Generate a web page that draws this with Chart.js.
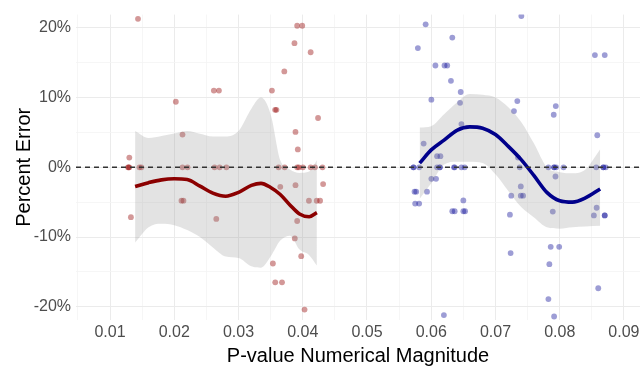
<!DOCTYPE html>
<html>
<head>
<meta charset="utf-8">
<script src="https://cdn.jsdelivr.net/npm/chart.js@4.4.1/dist/chart.umd.min.js"></script>
<style>
  html, body { margin: 0; padding: 0; background: #fff; }
  canvas { display: block; }
</style>
</head>
<body>
<canvas id="chart" width="644" height="366"></canvas>
<script>
// axis range and ticks
const xMin = 0.0047, xMax = 0.0925;
const yMin = -21.9, yMax = 21.9;
const xTicks = [0.005, 0.01, 0.015, 0.02, 0.025, 0.03, 0.035, 0.04, 0.045, 0.05, 0.055, 0.06, 0.065, 0.07, 0.075, 0.08, 0.085, 0.09];
const yTicks = [-20, -15, -10, -5, 0, 5, 10, 15, 20];

// red group points (p-value, percent error)
const redX = [0.0128, 0.0129, 0.0130, 0.01457, 0.01488, 0.02128, 0.02206, 0.02627, 0.02706, 0.02811,
  0.03624, 0.03718, 0.03913, 0.03939, 0.04002, 0.04123, 0.0419, 0.04307,
  0.01435, 0.02616, 0.02695, 0.0352, 0.02024, 0.0357, 0.0359, 0.02128, 0.0130,
  0.03913, 0.03992, 0.03871, 0.04123, 0.03713, 0.04238, 0.03887, 0.03923,
  0.01325, 0.02112, 0.02143, 0.02654, 0.03535, 0.0365, 0.03887, 0.04317, 0.04096, 0.04217, 0.0427,
  0.03913, 0.03876, 0.03976, 0.03572, 0.03677, 0.04028];
const redY = [0, 0, 0, 0, 0, 0, 0, 0, 0, 0,
  0, 0, 0, 0, 0, 0, 0, 0,
  21.3, 11.0, 11.0, 11.0, 9.4, 8.25, 8.25, 4.7, 1.4,
  20.3, 20.3, 17.8, 16.5, 13.75, 7.07, 5.08, 2.56,
  -7.15, -4.78, -4.78, -7.4, -13.8, -2.8, -2.56, -2.4, -4.8, -4.8, -4.8,
  -7.7, -10.2, -12.75, -16.5, -16.5, -20.4];

// blue group points
const blueX = [0.05724, 0.05724, 0.05812, 0.06091, 0.06134, 0.06134, 0.06365, 0.06354, 0.0647, 0.06521, 0.07378,
  0.07824, 0.07913, 0.07913, 0.07945, 0.0806, 0.08569, 0.08679, 0.08679, 0.08717,
  0.05913, 0.05792, 0.06328, 0.06065, 0.06207, 0.06249, 0.06307, 0.06002, 0.05882, 0.06091, 0.06143,
  0.06459, 0.06449, 0.0647, 0.0734, 0.07288, 0.07403, 0.07351, 0.08548, 0.08701, 0.07939, 0.07907, 0.08585,
  0.06002, 0.06075, 0.0574, 0.05766, 0.05934, 0.0575, 0.05812, 0.06328, 0.06365, 0.06197,
  0.065, 0.065, 0.06527, 0.07246, 0.07394, 0.0743, 0.07394, 0.07225, 0.07236,
  0.07934, 0.07892, 0.08575, 0.08532, 0.08701, 0.08701, 0.0786, 0.07992, 0.07839, 0.086, 0.07824, 0.07913];
const blueY = [0, 0, 0, 0, 0, 0, 0, 0, 0, 0, 0,
  0, 0, 0, 0, 0, 0, 0, 0, 0,
  20.5, 17.1, 18.6, 14.6, 14.6, 14.6, 12.4, 9.7, 3.4, 1.6, 1.6,
  10.8, 9.25, 6.2, 9.5, 8.07, 21.7, 1.4, 16.1, 16.1, 8.78, 7.54, 4.6,
  -1.65, -1.65, -3.5, -3.5, -3.5, -5.2, -5.2, -6.3, -6.3, -21.2,
  -4.75, -6.3, -6.3, -4.07, -4.07, -4.07, -2.75, -6.8, -12.3,
  -1.32, -6.35, -5.8, -6.9, -6.9, -6.9, -11.4, -11.4, -13.9, -17.35, -18.9, -21.4];

// smoothed trend + confidence band, red
const redFitX = [0.0139, 0.016, 0.018, 0.020, 0.022, 0.024, 0.026, 0.028, 0.030, 0.032, 0.0335, 0.035, 0.0365, 0.038, 0.0395, 0.041, 0.0422];
const redFit = [-2.75, -2.2, -1.8, -1.65, -1.75, -2.7, -3.7, -4.15, -3.6, -2.6, -2.3, -2.9, -3.9, -5.4, -6.7, -7.1, -6.5];
const redHi = [5.2, 4.2, 4.5, 4.85, 5.2, 4.8, 4.4, 4.4, 5.2, 8.4, 10.0, 7.6, 1.0, -0.3, -0.8, -0.6, 1.0];
const redLo = [-10.8, -8.6, -8.1, -8.3, -9.0, -10.0, -11.5, -12.8, -13.0, -14.2, -14.4, -12.8, -10.5, -9.8, -11.8, -12.6, -14.1];

// smoothed trend + confidence band, blue
const blueFitX = [0.0582, 0.060, 0.062, 0.064, 0.066, 0.068, 0.070, 0.072, 0.074, 0.076, 0.078, 0.080, 0.082, 0.084, 0.0863];
const blueFit = [0.6, 2.5, 3.9, 5.3, 5.8, 5.6, 4.7, 3.0, 1.1, -1.2, -3.6, -4.8, -5.0, -4.4, -3.1];
const blueHi = [5.7, 5.9, 7.6, 9.3, 10.5, 10.4, 10.0, 8.6, 6.5, 3.4, 0.0, -0.7, -0.85, -0.3, 2.6];
const blueLo = [-4.5, -2.3, 0.4, 0.8, 0.8, 0.6, -1.0, -3.4, -5.7, -7.2, -8.6, -8.8, -8.6, -8.5, -8.4];

const pairs = (xs, ys) => xs.map((x, i) => ({ x: x, y: ys[i] }));

const bandColor = 'rgba(150,150,150,0.27)';
const font = 'Liberation Sans, Arial, sans-serif';

function fitLine(xs, ys, color) {
    return { type: 'line', data: pairs(xs, ys), borderColor: color, borderWidth: 3.6,
             pointRadius: 0, fill: false, cubicInterpolationMode: 'monotone', order: 2 };
}
function bandEdge(xs, ys, fill) {
    return { type: 'line', data: pairs(xs, ys), borderWidth: 0, borderColor: 'rgba(0,0,0,0)',
             pointRadius: 0, fill: fill, backgroundColor: bandColor, cubicInterpolationMode: 'monotone', order: 3 };
}

const ctx = document.getElementById('chart').getContext('2d');
new Chart(ctx, {
    type: 'scatter',
    data: {
        datasets: [
            { data: pairs(redX, redY), backgroundColor: 'rgba(150,10,10,0.42)', borderWidth: 0, pointRadius: 2.9, order: 4 },
            { data: pairs(blueX, blueY), backgroundColor: 'rgba(10,10,150,0.4)', borderWidth: 0, pointRadius: 2.9, order: 4 },
            bandEdge(redFitX, redHi, false),
            bandEdge(redFitX, redLo, '-1'),
            bandEdge(blueFitX, blueHi, false),
            bandEdge(blueFitX, blueLo, '-1'),
            fitLine(redFitX, redFit, '#8b0000'),
            fitLine(blueFitX, blueFit, '#00008b'),
            // reference line at zero
            { type: 'line', data: [{ x: xMin, y: 0 }, { x: xMax, y: 0 }], borderColor: '#333',
              borderWidth: 1.5, borderDash: [5, 4], pointRadius: 0, fill: false, order: 1 }
        ]
    },
    options: {
        responsive: false,
        animation: false,
        devicePixelRatio: 1,
        layout: { padding: { top: 13, right: 4, left: 0, bottom: 0 } },
        plugins: { legend: { display: false }, tooltip: { enabled: false } },
        scales: {
            x: {
                type: 'linear', min: xMin, max: xMax,
                afterBuildTicks: (s) => { s.ticks = xTicks.map(v => ({ value: v })); },
                afterFit: (s) => { s.height = 46; },
                border: { display: false },
                grid: {
                    drawTicks: false,
                    color: (c) => (Math.round(c.tick.value * 1000) % 10 === 0 ? '#ebebeb' : '#f4f4f4'),
                    lineWidth: (c) => (Math.round(c.tick.value * 1000) % 10 === 0 ? 1 : 0.8)
                },
                ticks: {
                    padding: 3, color: '#4d4d4d', font: { family: font, size: 16 },
                    autoSkip: false, maxRotation: 0,
                    callback: (v) => (Math.round(v * 1000) % 10 === 0 ? v.toFixed(2) : '')
                },
                title: { display: true, text: 'P-value Numerical Magnitude', color: '#000',
                         font: { family: font, size: 20, lineHeight: 1 }, padding: { top: 0, bottom: 0 } }
            },
            y: {
                type: 'linear', min: yMin, max: yMax,
                afterBuildTicks: (s) => { s.ticks = yTicks.map(v => ({ value: v })); },
                afterFit: (s) => { s.width = 76; },
                border: { display: false },
                grid: {
                    drawTicks: false,
                    color: (c) => (c.tick.value % 10 === 0 ? '#ebebeb' : '#f4f4f4'),
                    lineWidth: (c) => (c.tick.value % 10 === 0 ? 1 : 0.8)
                },
                ticks: {
                    padding: 5, color: '#4d4d4d', font: { family: font, size: 16 },
                    callback: (v) => (v % 10 === 0 ? v + '%' : '')
                },
                title: { display: true, text: 'Percent Error', color: '#000',
                         font: { family: font, size: 20 }, padding: { top: 12, bottom: 0 } }
            }
        }
    }
});
</script>
</body>
</html>
